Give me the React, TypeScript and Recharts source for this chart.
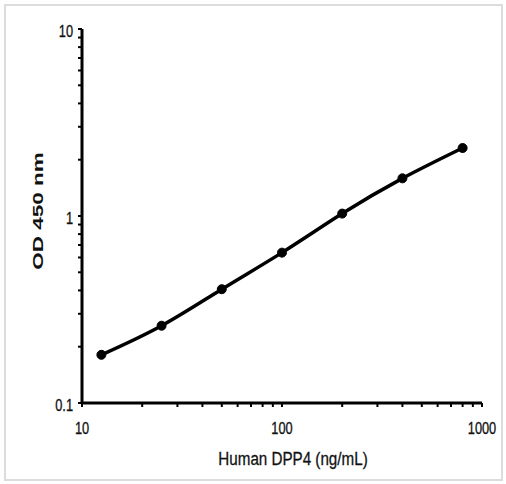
import { LineChart, Line, XAxis, YAxis, Label } from 'recharts';

// standard curve: Human DPP4 (ng/mL) vs OD 450 nm
const concentrations = [12.5, 25, 50, 100, 200, 400, 800];
const odValues = [0.181, 0.259, 0.406, 0.637, 1.03, 1.59, 2.31];

const xTicks = [10, 20, 30, 40, 50, 60, 70, 80, 90, 100, 200, 300, 400, 500, 600, 700, 800, 900, 1000];
const yTicks = [0.1, 0.2, 0.3, 0.4, 0.5, 0.6, 0.7, 0.8, 0.9, 1, 2, 3, 4, 5, 6, 7, 8, 9, 10];
const xMajor = [10, 100, 1000];
const yMajor = [0.1, 1, 10];

const data = concentrations.map((c, i) => ({ x: c, y: odValues[i] }));

const sans = "'Liberation Sans', Arial, sans-serif";

// narrow-looking text: regular Arial squeezed horizontally
// eslint-disable-next-line @typescript-eslint/no-explicit-any
const NarrowText = ({ x, y, size, anchor, children }: any) => (
  <text
    transform={`translate(${x},${y}) scale(0.8,1)`}
    textAnchor={anchor}
    fontSize={size}
    fontFamily={sans}
    fill="#111"
    stroke="#111"
    strokeWidth={0.3}
  >
    {children}
  </text>
);

// eslint-disable-next-line @typescript-eslint/no-explicit-any
const XTick = (props: any) => {
  const { x, payload } = props;
  if (!xMajor.includes(payload.value)) return <g />;
  return (
    <NarrowText x={x} y={434} size={16} anchor="middle">
      {payload.value}
    </NarrowText>
  );
};

// eslint-disable-next-line @typescript-eslint/no-explicit-any
const YTick = (props: any) => {
  const { y, payload } = props;
  if (!yMajor.includes(payload.value)) return <g />;
  return (
    <NarrowText x={73} y={y + 8} size={16} anchor="end">
      {payload.value}
    </NarrowText>
  );
};

export default function App() {
  return (
    <div style={{ position: 'absolute', left: 0, top: 0, width: 506, height: 484, background: '#fff' }}>
      <div
        style={{
          position: 'absolute',
          left: 4,
          top: 4,
          width: 495,
          height: 473,
          border: '2px solid #dcdcdc',
        }}
      />
      <div style={{ position: 'absolute', left: 0, top: 0 }}>
        <LineChart width={506} height={484} data={data} margin={{ top: 29, right: 24, left: 0, bottom: 0 }}>
          <XAxis
            dataKey="x"
            type="number"
            scale="log"
            domain={[10, 1000]}
            ticks={xTicks}
            interval={0}
            allowDataOverflow
            height={81}
            axisLine={{ stroke: '#000', strokeWidth: 3 }}
            tickLine={{ stroke: '#000', strokeWidth: 2 }}
            tickSize={4}
            tick={<XTick />}
          >
            <Label
              content={() => (
                <NarrowText x={293} y={465} size={19} anchor="middle">
                  Human DPP4 (ng/mL)
                </NarrowText>
              )}
            />
          </XAxis>
          <YAxis
            dataKey="y"
            type="number"
            scale="log"
            domain={[0.1, 10]}
            ticks={yTicks}
            interval={0}
            allowDataOverflow
            width={82}
            axisLine={{ stroke: '#000', strokeWidth: 3 }}
            tickLine={{ stroke: '#000', strokeWidth: 2 }}
            tickSize={4}
            tick={<YTick />}
          >
            <Label
              content={() => (
                <text
                  transform="translate(43,211) rotate(-90) scale(1.5,1)"
                  textAnchor="middle"
                  fontSize={15}
                  fontWeight="bold"
                  fontFamily={sans}
                  fill="#111"
                >
                  OD 450 nm
                </text>
              )}
            />
          </YAxis>
          <Line
            dataKey="y"
            type="natural"
            stroke="#000"
            strokeWidth={3.5}
            dot={{ r: 4.5, fill: '#000', stroke: '#000', strokeWidth: 1 }}
            isAnimationActive={false}
          />
        </LineChart>
      </div>
    </div>
  );
}
